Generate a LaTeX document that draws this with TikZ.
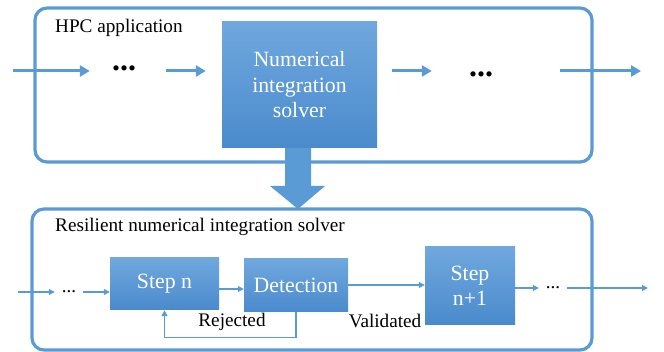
\documentclass[tikz,border=0pt]{standalone}
\usepackage{fontspec}
\setmainfont{Liberation Serif}
\usepackage{xcolor}
\usetikzlibrary{arrows.meta, shadows, calc, positioning}

\definecolor{edgeblue}{RGB}{91,155,213}
\definecolor{boxtop}{RGB}{112,168,222}
\definecolor{boxbot}{RGB}{74,138,204}

\tikzset{
  frame/.style={draw=edgeblue, line width=3.2pt, rounded corners=12pt, fill=white,
    drop shadow={opacity=0.25, shadow xshift=1.2pt, shadow yshift=-1.2pt}},
  block/.style={top color=boxtop, bottom color=boxbot, text=white, align=center,
    inner sep=0pt, font=\fontsize{21.8}{25.5}\selectfont},
  bigarrow/.style={edgeblue, line width=3pt, -{Triangle[length=10pt,width=11pt]}},
  smallarrow/.style={edgeblue, line width=1.3pt, -{Triangle[length=6pt,width=6pt]}},
  caption/.style={font=\fontsize{19.2}{22}\selectfont, inner sep=0pt}
}

\begin{document}
\begin{tikzpicture}[x=1pt, y=-1pt]
\useasboundingbox (0,0) rectangle (664,352);

% outer frames
\node[frame, minimum width=557pt, minimum height=154pt] (app) at (313.5,85) {};
\node[frame, minimum width=560pt, minimum height=141pt] (res) at (312,279.5) {};
\node[caption, anchor=west] (apptitle) at (55,28) {HPC application};
\node[caption, anchor=west] (restitle) at (55,227) {Resilient numerical integration solver};

% top row
\node[block, minimum width=155pt, minimum height=126pt] (solver) at (299.5,85) {Numerical\\integration\\solver};
\coordinate (inA) at (13,71);
\coordinate (outA) at (641,71);
\node[inner sep=0pt, font=\fontsize{32}{32}\selectfont\bfseries] (dotsA) at (124,68) {...};
\node[inner sep=0pt, font=\fontsize{32}{32}\selectfont\bfseries] (dotsB) at (481,74) {...};
\draw[bigarrow] (inA) -- (inA -| dotsA.west) [shorten >=22pt];
\draw[bigarrow, shorten <=30pt, shorten >=16pt] (dotsA.east |- inA) -- (solver.west |- inA);
\draw[bigarrow, shorten <=15pt, shorten >=37pt] (solver.east |- inA) -- (dotsB.west |- inA);
\draw[bigarrow, shorten <=67pt] (dotsB.east |- inA) -- (outA);

% from application to solver detail
\fill[edgeblue] (285,148) -- (311,148) -- (311,186) -- (325,186) -- (298,209)
  -- (270,186) -- (285,186) -- cycle;

% bottom row
\node[block, minimum width=109pt, minimum height=52pt] (stepn) at (164.5,284) {Step n};
\node[block, minimum width=104pt, minimum height=53pt] (detect) at (296,285.5) {Detection};
\node[block, minimum width=90pt, minimum height=78pt] (stepnn) at (470,286) {Step\\n+1};
\coordinate (inB) at (18,292);
\coordinate (outB) at (648,288);
\node[inner sep=0pt, minimum width=28pt, font=\fontsize{19}{19}\selectfont] (dotsC) at (69,292) {...};
\node[inner sep=0pt, minimum width=28pt, font=\fontsize{19}{19}\selectfont] (dotsD) at (553,288) {...};
\draw[smallarrow] (inB) -- (dotsC.west);
\draw[smallarrow] (dotsC.east) -- (dotsC.east -| stepn.west);
\draw[smallarrow] ($(stepn.east)+(0,5)$) -- ($(stepn.east -| detect.west)+(0,5)$);
\draw[smallarrow] ($(detect.east)+(0,-0.5)$) -- ($(detect.east -| stepnn.west)+(0,-0.5)$);
\draw[smallarrow] (stepnn.east |- dotsD) -- (dotsD.west);
\draw[smallarrow] (dotsD.east) -- (outB);
\draw[smallarrow] (detect.south) -- ++(0,25) -| (stepn.south);
\node[caption] (rejected) at (232,322) {Rejected};
\node[caption] (validated) at (385,321) {Validated};
\end{tikzpicture}
\end{document}
